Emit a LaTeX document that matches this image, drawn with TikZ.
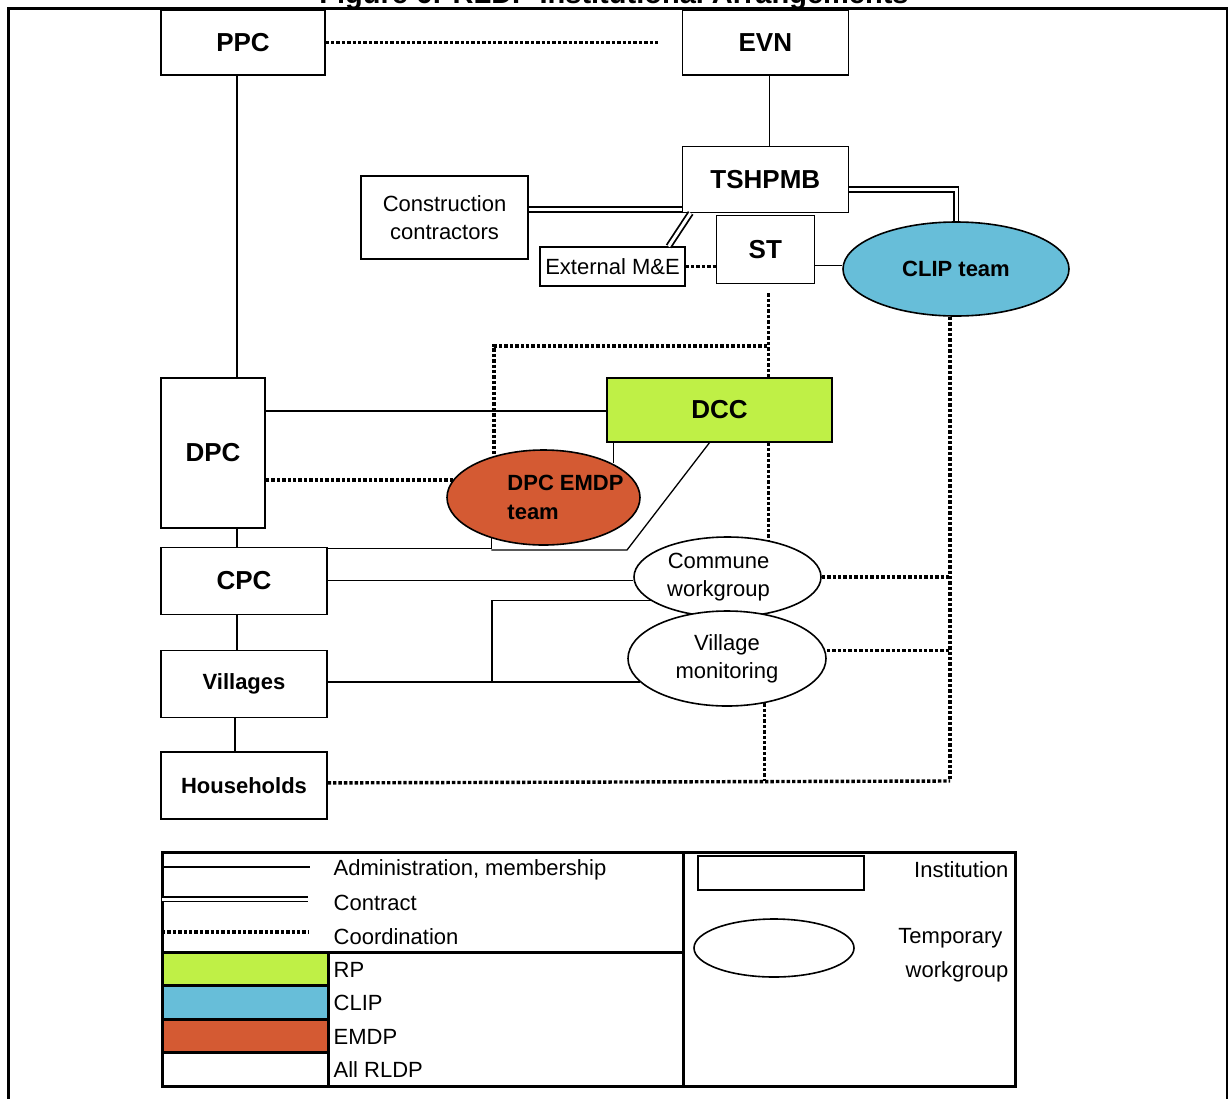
\documentclass[tikz,border=0pt]{standalone}
\usepackage{fontspec}
\setmainfont{Liberation Sans}
\usetikzlibrary{positioning, shapes.geometric}

\definecolor{rpgreen}{RGB}{191,240,70}
\definecolor{clipblue}{RGB}{103,190,217}
\definecolor{emdpred}{RGB}{212,90,51}

\begin{document}
\begin{tikzpicture}[
        x=1pt, y=-1pt,
        line width=1.3pt,
        hbig/.style = {font=\fontsize{26}{30}\selectfont\bfseries},
        hsmall/.style = {font=\fontsize{22}{29}\selectfont\bfseries},
        txt/.style = {font=\fontsize{22}{28}\selectfont},
        box/.style = {rectangle, draw, fill=#1, inner sep=0pt, align=center},
        team/.style = {ellipse, draw, fill=#1, inner sep=0pt, align=center, line width=1.6pt},
        contract/.style = {double, double distance=3pt, line width=1.8pt},
        dotline/.style = {line width=3.4pt, dash pattern=on 3.4pt off 2pt},
        lgtext/.style = {txt, anchor=west, inner sep=0pt}
                    ]
        \useasboundingbox (0,0) rectangle (1228,1098);
        \clip (0,0) rectangle (1228,1098);
        \node (title) [anchor=base, inner sep=0pt, font=\fontsize{29}{32}\selectfont\bfseries] at (614,3) {Figure 6: RLDP Institutional Arrangements};
        \draw[line width=3pt] (8,8) rectangle (1227,1130);
        % institutions
        \node (ppc) [box=white, hbig, minimum width=164pt, minimum height=65pt] at (243,42.5) {PPC};
        \node (evn) [box=white, hbig, minimum width=166pt, minimum height=65pt, right=356pt of ppc] {EVN};
        \node (tsh) [box=white, hbig, minimum width=166pt, minimum height=66pt, below=70pt of evn] {TSHPMB};
        \node (st) [box=white, hbig, minimum width=98pt, minimum height=68pt, below=2pt of tsh] {ST};
        \node (cc) [box=white, txt, minimum width=167pt, minimum height=83pt] at (444.5,217.5) {Construction\\contractors};
        \node (ext) [box=white, txt, minimum width=145pt, minimum height=39pt] at (612.5,266.5) {External M\&E};
        \node (clip) [team=clipblue, hsmall, minimum width=226pt, minimum height=94pt] at (956,269) {CLIP team};
        \node (dcc) [box=rpgreen, hbig, minimum width=225pt, minimum height=64pt] at (719.5,410) {DCC};
        \node (dpc) [box=white, hbig, minimum width=104pt, minimum height=150pt] at (213,453) {DPC};
        \node (emdp) [team=emdpred, minimum width=193pt, minimum height=95pt,
                      label={[hsmall, align=left, xshift=22pt]center:DPC EMDP\\team}] at (543.5,497.5) {};
        \node (cpc) [box=white, hbig, minimum width=166pt, minimum height=67pt,
                     below=18pt of dpc.south west, anchor=north west] {CPC};
        \node (vil) [box=white, hsmall, minimum width=166pt, minimum height=67pt, below=35pt of cpc] {Villages};
        \node (hh) [box=white, hsmall, minimum width=166pt, minimum height=67pt, below=33pt of vil] {Households};
        \node (commune) [team=white, minimum width=187pt, minimum height=80pt,
                         label={[txt, align=center, xshift=-9pt]center:Commune\\workgroup}] at (727.5,577) {};
        \node (vm) [team=white, txt, minimum width=198pt, minimum height=95pt] at (727,658.5) {Village\\monitoring};
        %
        \coordinate (dbend) at (627,550);
        \coordinate (vsplit) at (492,600);
        \coordinate (stj) at (767,346);
        \coordinate (cl) at (950,781);
        % administration, membership
        \draw ([xshift=-6pt]ppc.south) -- ([xshift=-6pt]ppc.south |- dpc.north);
        \draw ([xshift=4pt]evn.south) -- ([xshift=4pt]evn.south |- tsh.north);
        \draw ([xshift=24pt]dpc.south) -- ([xshift=24pt]dpc.south |- cpc.north);
        \draw ([xshift=-7pt]cpc.south) -- ([xshift=-7pt]cpc.south |- vil.north);
        \draw ([xshift=-9pt]vil.south) -- ([xshift=-9pt]vil.south |- hh.north);
        \draw ([yshift=42pt]dpc.east) -- ([yshift=42pt]dpc.east -| dcc.west);
        \draw ([yshift=-16pt]st.east) -- ([yshift=-16pt]st.east -| clip.west);
        \draw ([xshift=7pt]dcc.south west) -- ([xshift=7pt]dcc.south west |- emdp.north east);
        \draw ([yshift=-2pt]cpc.north east) -| (emdp.218);
        \draw ([xshift=-10pt]dcc.south) -- (dbend) -- (dbend -| emdp.218);
        \draw (cpc.east) -- (cpc.east -| commune.west);
        \draw (vm.195) -- (vm.195 -| vil.east);
        \draw (vm.195 -| vsplit) |- (commune.197);
        % contract
        \draw[contract] ([yshift=8pt]cc.east) -- ([yshift=8pt]cc.east -| tsh.west);
        \draw[contract] ([xshift=9pt]tsh.south west) -- ([xshift=-17pt]ext.north east);
        \draw[contract] ([yshift=-10pt]tsh.east) -| (clip.north);
        % coordination
        \draw[dotline, shorten >=24pt] (ppc) -- (evn);
        \draw[dotline] (ext.east) -- (ext.east -| st.west);
        \draw[dotline, shorten <=9pt] ([xshift=3pt]st.south) -- ([xshift=3pt]st.south |- dcc.north);
        \draw[dotline] (stj) -| (emdp.140);
        \draw[dotline] (emdp.169) -- (emdp.169 -| dpc.east);
        \draw[dotline] (dcc.south -| commune.42) -- (commune.42);
        \draw[dotline] (clip.south -| cl) -- (cl);
        \draw[dotline] (commune.east) -- (commune.east -| cl);
        \draw[dotline] ([yshift=8pt]vm.east) -- ([yshift=8pt]vm.east -| cl);
        \draw[dotline] (vm.-50) -- (vm.-50 |- cl);
        \draw[dotline] ([yshift=2.5pt]hh.east) -- (cl);
        % legend
        \draw[line width=3pt] (162,852) rectangle (1015,1086);
        \draw[line width=3pt] (683,852) -- (683,1086);
        \draw[line width=3pt] (162,952) -- (683,952);
        \draw (162,867) -- (310,867);
        \draw[contract] (162,899) -- (308,899);
        \draw[dotline] (162,932) -- (308,932);
        \node (lgadmin) [lgtext] at (333,870) {Administration, membership};
        \node (lgcontract) [lgtext] at (333,903) {Contract};
        \node (lgcoord) [lgtext] at (333,937) {Coordination};
        \foreach \clr/\txt [count=\i from 0] in {rpgreen/RP, clipblue/CLIP, emdpred/EMDP, white/All RLDP}
          {
          \draw[line width=3pt, fill=\clr] (162,952+33.5*\i) rectangle (328,985.5+33.5*\i);
          \node (lg\i) [lgtext] at (333,969.5+33.5*\i) {\txt};
          }
        \node (lginst) [box=white, minimum width=166pt, minimum height=34pt] at (781,873) {};
        \node (lgtemp) [team=white, minimum width=160pt, minimum height=58pt] at (774,948) {};
        \node (lginsttxt) [txt, anchor=east, inner sep=0pt] at (1009,870) {Institution};
        \node (lgtemptxt) [anchor=east, align=right, inner sep=0pt, font=\fontsize{22}{34}\selectfont] at (1009,955) {Temporary\hspace*{6pt}\\workgroup};
    \end{tikzpicture}
\end{document}
